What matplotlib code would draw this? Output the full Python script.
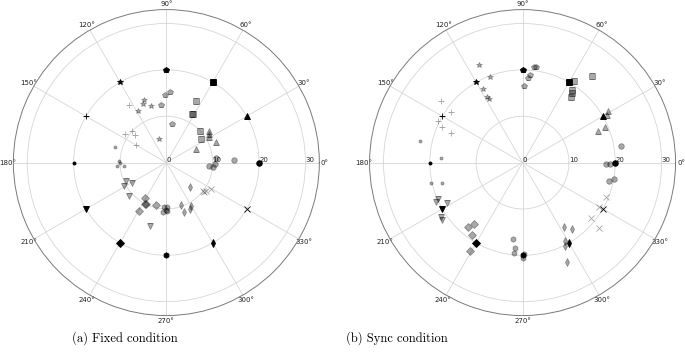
import matplotlib
matplotlib.use("Agg")
import matplotlib.pyplot as plt
import numpy as np

# target directions (deg) and the marker used for each one
TARGET_DEG = [0, 30, 60, 90, 120, 150, 180, 210, 240, 270, 300, 330]
TARGET_R = 20
MARKERS = ["o", "^", "s", "p", "*", "+", ".", "v", "D", "h", "d", "x"]

# per-target responses, fixed condition (angle deg, radius)
FIXED_DEG = [
    [5.3, -1.2, -4.4, -5.3, 2.5],
    [36.9, 31.0, 22.1, 24.0, 34.0],
    [63.8, 62.8, 61.4, 43.8, 34.3],
    [90.8, 87.0, 95.6, 82.2],
    [109.2, 111.9, 105.3, 118.5, 107.7],
    [122.6, 144.7, 137.9, 139.2, 150.0],
    [163.5, 178.4, 181.0, 183.9, 184.6],
    [204.2, 210.3, 208.5, 221.9, 256.0],
    [238.2, 244.2, 240.6, 256.0, 243.0],
    [267.0, 271.3, 265.8, 271.2, 269.0],
    [314.0, 289.2, 289.4, 296.8, 300.0],
    [321.3, 324.3, 329.5, 322.0],
]
FIXED_R = [
    [10.8, 10.4, 9.3, 10.0, 14.7],
    [11.5, 10.7, 11.6, 7.0, 11.0],
    [14.7, 11.9, 11.9, 10.0, 9.0],
    [14.6, 15.3, 12.5, 8.4],
    [14.4, 13.6, 12.7, 12.6, 5.4],
    [14.8, 10.8, 10.1, 9.0, 7.6],
    [11.6, 10.2, 10.1, 10.6, 9.2],
    [9.6, 8.7, 10.4, 10.7, 14.2],
    [8.9, 10.0, 11.9, 9.45, 10.1],
    [9.5, 9.5, 10.6, 10.4, 10.2],
    [7.3, 9.6, 11.4, 11.2, 10.8],
    [10.3, 10.5, 11.2, 10.1],
]

# per-target responses, sync condition
SYNC_DEG = [
    [9.4, -1.1, -0.7, -11.9, -10.5],
    [31.4, 29.7, 23.0, 23.2],
    [57.8, 51.1, 56.0, 54.2, 53.7],
    [82.1, 82.9, 85.0, 86.4, 89.0],
    [114.0, 111.1, 118.5, 118.4, 117.7],
    [142.9, 144.7, 153.6, 156.0, 157.6],
    [168.2, 176.5, 192.5, 194.0],
    [203.4, 204.5, 208.3, 214.0, 215.5],
    [229.6, 231.9, 235.2, 239.5],
    [262.9, 264.9, 264.8, 270.4, 271.0],
    [302.5, 306.9, 298.5, 296.8, 294.1],
    [337.4, 330.0, 320.9, 319.8],
]
SYNC_R = [
    [21.5, 17.9, 18.9, 19.1, 20.0],
    [21.5, 20.9, 17.7, 19.4],
    [20.8, 23.9, 19.0, 18.4, 17.6],
    [20.9, 20.7, 19.0, 18.25, 16.6],
    [23.0, 19.8, 18.0, 16.2, 15.5],
    [22.1, 18.9, 20.3, 19.0, 16.7],
    [22.6, 17.7, 20.2, 18.0],
    [19.8, 20.6, 18.5, 21.1, 21.3],
    [18.3, 16.8, 19.1, 22.2],
    [16.7, 18.5, 19.6, 20.6, 19.7],
    [16.6, 17.9, 19.3, 20.1, 23.4],
    [19.5, 19.1, 19.0, 21.7],
]

CAPTIONS = ["(a) Fixed condition", "(b) Sync condition"]

GRID = "#d6d6d6"
EDGE = "#7a7a7a"


def draw_panel(ax, degs, rads):
    for m, tdeg, dd, rr in zip(MARKERS, TARGET_DEG, degs, rads):
        ms, mew = 4.0, 0.6
        if m == ".":
            ms = 4.4
        if m in ("+", "x"):
            ms = 5.0
        if m == "D":
            ms = 3.6
        ax.plot(np.radians(dd), rr, ls="none", marker=m, ms=ms,
                color="k", alpha=0.34, mew=mew, zorder=3)
        ax.plot(np.radians(tdeg), TARGET_R, ls="none", marker=m, ms=ms,
                color="k", mew=mew, zorder=4)

    ax.set_ylim(0, 33)
    ax.set_rticks([0, 10, 20, 30])
    ax.set_rlabel_position(0)
    ax.set_thetagrids(range(0, 360, 30))
    ax.tick_params(axis="both", labelsize=5, colors="#222222")
    ax.tick_params(axis="x", pad=-6.5)
    ax.tick_params(axis="y", pad=0)
    ax.grid(True, color=GRID, linewidth=0.6)
    ax.spines["polar"].set_color(EDGE)
    ax.spines["polar"].set_linewidth(0.7)


fig = plt.figure(figsize=(6.85, 3.55), dpi=100)
ax_a = fig.add_axes([0.0195, 0.111, 0.4467, 0.862], projection="polar")
ax_b = fig.add_axes([0.5395, 0.111, 0.4467, 0.862], projection="polar")

draw_panel(ax_a, FIXED_DEG, FIXED_R)
draw_panel(ax_b, SYNC_DEG, SYNC_R)

fig.text(125 / 685, 1 - 338 / 355, CAPTIONS[0], ha="center", va="center",
         fontsize=9, family="cmr10")
fig.text(397 / 685, 1 - 338 / 355, CAPTIONS[1], ha="center", va="center",
         fontsize=9, family="cmr10")

fig.savefig("out.png", dpi=100)
